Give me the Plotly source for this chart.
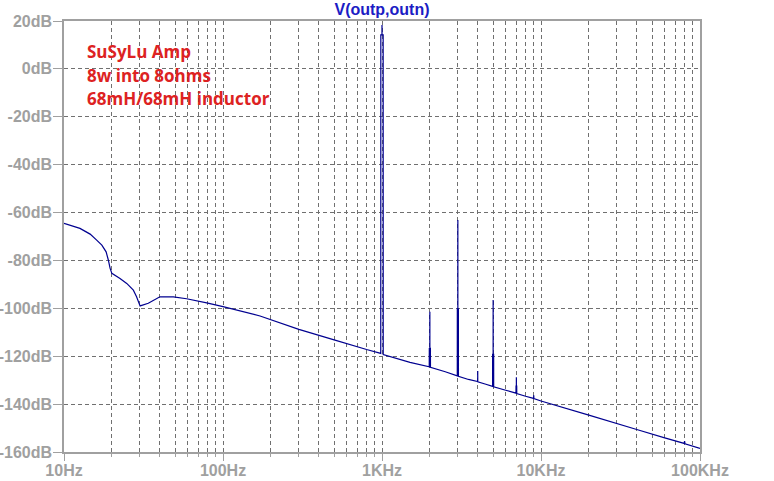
import plotly.graph_objects as go

# Frequency (Hz) and magnitude (dB)
freq_hz = [10, 12.6, 14.6, 16.05, 17.3, 18.4, 19.0, 19.5, 20.0, 22.5, 24.8, 27.3, 28.6, 30.1,
           33.9, 40.1, 48.7, 59, 79, 100, 171, 300, 500, 800,
           982, 983, 999.5, 1000, 1000.5, 1017, 1018,
           1500,
           1982, 1984, 1999.5, 2000, 2000.5, 2016, 2018,
           2500,
           2975, 2977, 2999.5, 3000, 3000.5, 3023, 3025,
           3500,
           3998, 4000, 4002,
           4500,
           4960, 4963, 4999.5, 5000, 5000.5, 5037, 5040,
           6000,
           6960, 6965, 6999.5, 7000, 7000.5, 7035, 7040,
           8000,
           8980, 9000, 9020,
           10000, 20000, 40000, 60000,
           79500, 80000, 80500,
           100000]
mag_db = [-64.5, -66.6, -69.0, -71.5, -73.6, -76.4, -79.8, -83.3, -85.4, -87.5, -89.6, -92.4, -95.2, -99.0,
          -97.9, -95.2, -95.2, -96.0, -97.7, -99.3, -103.2, -108.8, -113.2, -117.2,
          -118.8, 14.2, 14.2, 18.3, 14.2, 14.2, -119.3,
          -122.6,
          -124.4, -116.8, -116.8, -101.4, -116.8, -116.5, -124.6,
          -126.5,
          -128.2, -100.2, -100.2, -63.1, -100.2, -100.2, -128.4,
          -129.7,
          -130.6, -126.2, -130.7,
          -131.7,
          -132.6, -119.2, -119.2, -96.5, -119.2, -119.2, -132.8,
          -134.2,
          -135.4, -132.5, -132.5, -128.8, -132.5, -132.5, -135.6,
          -136.7,
          -137.6, -136.3, -137.7,
          -138.7, -144.6, -150.6, -154.1,
          -156.4, -155.4, -156.6,
          -158.5]

x_major = [10, 100, 1000, 10000, 100000]
x_major_text = ["10Hz", "100Hz", "1KHz", "10KHz", "100KHz"]
x_minor = [m * d for d in [10, 100, 1000, 10000] for m in range(2, 10)]
y_ticks = [20, 0, -20, -40, -60, -80, -100, -120, -140, -160]
y_text = ["20dB", "0dB", "-20dB", "-40dB", "-60dB", "-80dB", "-100dB", "-120dB", "-140dB", "-160dB"]
notes = ["SuSyLu Amp", "8w into 8ohms", "68mH/68mH inductor"]

grid_col = "#707070"
axis_col = "#a0a0a0"
tick_font = dict(family="Liberation Sans, Arial, sans-serif", size=16, color="#a0a0a0", weight="bold")

fig = go.Figure()
fig.add_trace(go.Scatter(x=freq_hz, y=mag_db, mode="lines",
                         line=dict(color="#000090", width=1.2, simplify=False),
                         hoverinfo="skip", showlegend=False))

fig.update_layout(
    width=774, height=481,
    margin=dict(l=64, r=74, t=21, b=29, autoexpand=False),
    paper_bgcolor="white", plot_bgcolor="white",
    showlegend=False,
    title=dict(text="V(outp,outn)", x=0.5, xref="paper", xanchor="center",
               y=1 - 9 / 481, yref="container", yanchor="middle",
               font=dict(family="Liberation Sans, Arial, sans-serif", size=16,
                         color="#1c1cc4", weight="bold")),
)
fig.update_xaxes(type="log", range=[1, 5], automargin=False,
                 tickmode="array", tickvals=x_major, ticktext=x_major_text,
                 ticks="outside", ticklen=7, tickcolor=axis_col, tickfont=tick_font,
                 ticklabelstandoff=-4,
                 showline=True, linecolor=axis_col, linewidth=1.5, mirror=True,
                 showgrid=True, gridcolor=grid_col, griddash="4px,3px", gridwidth=1,
                 minor=dict(tickmode="array", tickvals=x_minor, ticks="outside", ticklen=3,
                            tickcolor=axis_col, showgrid=True, gridcolor=grid_col,
                            griddash="4px,3px", gridwidth=1),
                 zeroline=False)
fig.update_yaxes(range=[-160, 20], automargin=False,
                 tickmode="array", tickvals=y_ticks, ticktext=y_text,
                 ticks="outside", ticklen=9, tickcolor=axis_col, tickfont=tick_font,
                 ticklabelstandoff=-2,
                 showline=True, linecolor=axis_col, linewidth=1.5, mirror=True,
                 showgrid=True, gridcolor=grid_col, griddash="4px,3px", gridwidth=1,
                 zeroline=False)

note_y = [0.9288, 0.8747, 0.8213]
for txt, yy in zip(notes, note_y):
    fig.add_annotation(text=txt, xref="paper", yref="paper", x=0.033, y=yy,
                       xanchor="left", yanchor="middle", showarrow=False,
                       font=dict(family="Open Sans, sans-serif", size=17, color="#dd2222", weight="bold"))

fig.write_html("out.html", config={"displayModeBar": False},
               post_script="document.body.style.margin='0';")
